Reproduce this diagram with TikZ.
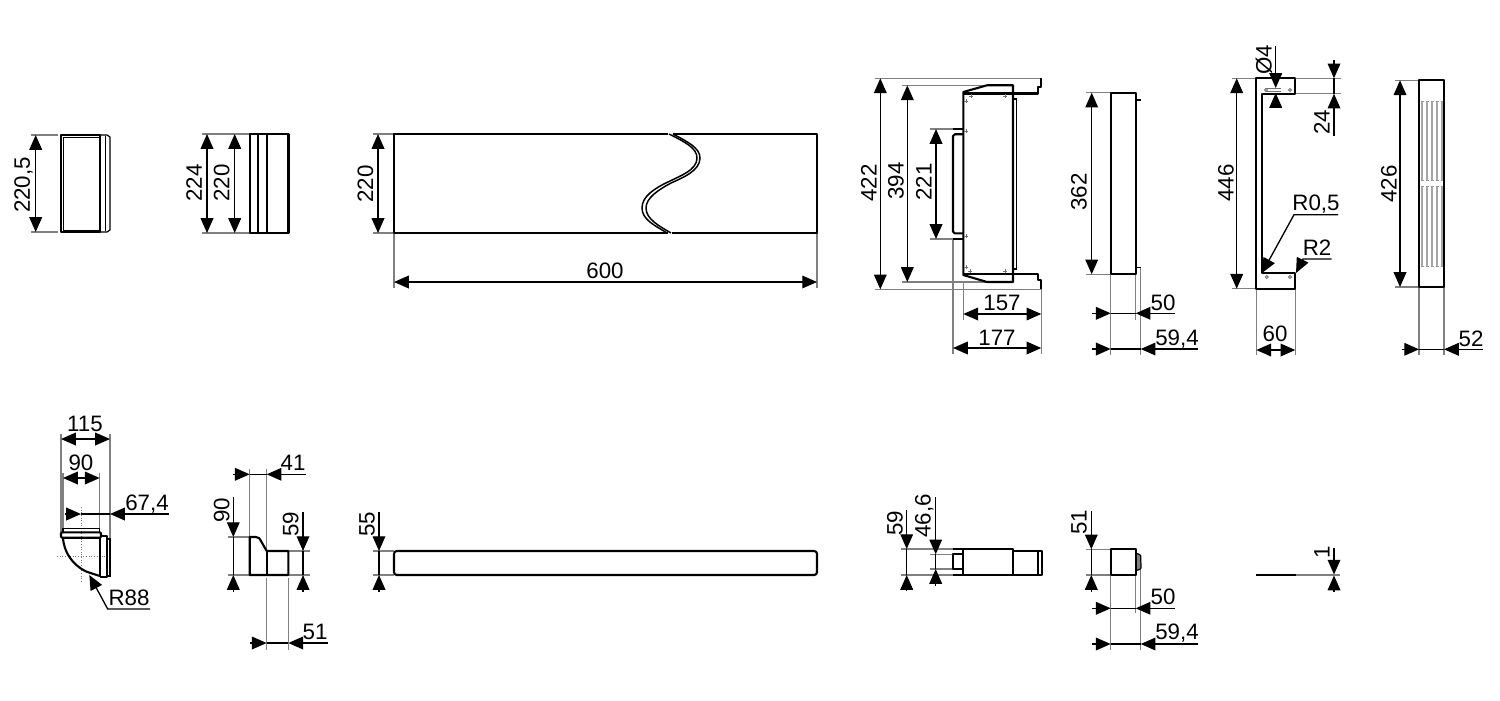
\documentclass[tikz,border=0pt]{standalone}
\usepackage{fontspec}
\setmainfont{Liberation Sans}
\usetikzlibrary{arrows.meta}
\tikzset{
  x=0.02cm,y=-0.02cm,
  obj/.style={line width=1.2pt,black,line join=round},
  thin obj/.style={line width=.65pt,black},
  ext/.style={line width=.6pt,black!50},
  dimtwo/.style={line width=.75pt,black,{Triangle[length=8.4pt,width=7.2pt]}-{Triangle[length=8.4pt,width=7.2pt]}},
  dimone/.style={line width=.75pt,black,-{Triangle[length=8.4pt,width=7.2pt]}},
  plainl/.style={line width=.75pt,black},
  lab/.style={font=\fontsize{12.7}{15}\selectfont,inner sep=0pt,text=black,text height=9.1pt,text depth=0pt},
  vlab/.style={lab,rotate=90},
  cl/.style={line width=.5pt,black!55,densely dotted},
}
\newcommand{\hole}[2]{\draw[line width=.45pt,black!55,fill=white] (#1,#2) circle (1.5);}
\newcommand{\plusm}[2]{\draw[line width=.5pt,black!55] (#1-2,#2) -- (#1+2,#2) (#1,#2-2) -- (#1,#2+2);}
\begin{document}
\begin{tikzpicture}
\useasboundingbox[fill=white] (0,0) rectangle (1500,700);

% ---------- top row: fig 1
\draw[ext] (31,135) -- (58,135) (31,232) -- (58,232);
\draw[obj] (61,135) rectangle (100,232);
\draw[thin obj,line width=.5pt] (63,137) rectangle (99,230);
\draw[thin obj] (100,135) -- (107,135) -- (110,137) -- (110,230) -- (107,232) -- (100,232);
\draw[thin obj,line width=.5pt] (105,136) -- (105,231);
\draw[dimtwo] (35.7,135) -- (35.7,232);
\node[vlab] (a1) at (22,185) {220,5};

% fig 2
\draw[ext] (202,134) -- (250,134) (202,233) -- (250,233);
\draw[obj] (250,134) rectangle (288.5,233);
\draw[obj] (258,134) -- (258,233) (267,134) -- (267,233);
\draw[dimtwo] (207,134) -- (207,233);
\draw[dimtwo] (234.7,134) -- (234.7,233);
\node[vlab] (a2) at (194,183) {224};
\node[vlab] (a3) at (221.5,183) {220};

% fig 3
\draw[ext] (373,134) -- (394,134) (373,233) -- (394,233);
\draw[ext] (394,233) -- (394,288) (817,233) -- (817,288);
\draw[obj] (668,134) -- (394,134) -- (394,233) -- (668,233);
\draw[obj] (673,134) -- (817,134) -- (817,233) -- (672,233);
\draw[line width=.85pt] (669,134) .. controls (685,142) and (697,148) .. (697,158) .. controls (697,170) and (680,176) .. (670,181) .. controls (655,188) and (642,196) .. (642,208) .. controls (642,220) and (656,226) .. (667,233);
\draw[line width=.85pt] (673,134) .. controls (688,142) and (700,148) .. (700,158) .. controls (700,171) and (682,178) .. (671,183) .. controls (658,190) and (646,198) .. (646,208) .. controls (646,219) and (659,226) .. (671,233);
\draw[dimtwo] (378,134) -- (378,233);
\draw[dimtwo] (394,282) -- (817,282);
\node[vlab] (a4) at (365,184) {220};
\node[lab] (a5) at (605,270.5) {600};

% fig 4
\draw[ext] (875,78.3) -- (1041,78.3) (875,289.3) -- (1041,289.3);
\draw[ext] (902,85.3) -- (987,85.3) (902,282) -- (987,282);
\draw[ext] (930,129) -- (953,129) (930,239) -- (953,239);
\draw[ext] (963.3,282) -- (963.3,320) (953,239) -- (953,354) (1041.3,289.3) -- (1041.3,354);
\draw[obj] (963.3,92) -- (987,85.3) -- (1013,85.3) -- (1013,282) -- (987,282) -- (963.3,275) -- cycle;
\draw[obj] (963.3,93.5) -- (1037.7,93.5) -- (1037.7,86.7) -- (1041.3,86.7) -- (1041.3,78.3);
\draw[obj] (963.3,273.7) -- (1037.7,273.7) -- (1037.7,280) -- (1041.3,280) -- (1041.3,289.3);
\draw[line width=.9pt] (1013,99) -- (1016.3,99) -- (1016.3,269) -- (1013,269);
\draw[obj] (963.3,134.3) -- (955,134.3) [rounded corners=1pt] -- (953,134.3) -- (953,233.3) -- (963.3,233.3);
\draw[obj] (953,129) -- (963.3,129) (953,239) -- (963.3,239);
\plusm{971}{96}\plusm{1005}{96}\plusm{966}{101}\plusm{966}{131}\plusm{966}{236}\plusm{966}{267}\plusm{970}{271}\plusm{1005}{271}
\draw[dimtwo] (880.3,78.3) -- (880.3,289.3);
\draw[dimtwo] (907.3,85.3) -- (907.3,282);
\draw[dimtwo] (936,129) -- (936,239);
\draw[dimtwo] (963.3,314) -- (1041.3,314);
\draw[dimtwo] (953,348) -- (1041.3,348);
\node[vlab] (a6) at (868.5,183) {422};
\node[vlab] (a7) at (895.5,181) {394};
\node[vlab] (a8) at (923.5,182) {221};
\node[lab] (a9) at (1002,302.5) {157};
\node[lab] (a10) at (997,337.5) {177};

% fig 5
\draw[ext] (1086,92.7) -- (1110.7,92.7) (1086,274.3) -- (1110.7,274.3);
\draw[ext] (1110.7,274.3) -- (1110.7,355) (1135.7,274.3) -- (1135.7,320) (1140.7,267.3) -- (1140.7,355);
\draw[obj] (1110.7,92.7) rectangle (1135.7,274.3);
\draw[line width=.9pt] (1135.7,100) -- (1141,100) (1135.7,267.3) -- (1141,267.3);
\draw[dimtwo] (1091.7,92.7) -- (1091.7,274.3);
\node[vlab] (a11) at (1078.5,192) {362};
\draw[dimone] (1092,313.3) -- (1110.7,313.3);
\draw[plainl] (1110.7,313.3) -- (1135.7,313.3);
\draw[dimone] (1175,313.3) -- (1135.7,313.3);
\node[lab] (a12) at (1163,302) {50};
\draw[dimone] (1092,349) -- (1110.7,349);
\draw[plainl] (1110.7,349) -- (1140.7,349);
\draw[dimone] (1198,349) -- (1140.7,349);
\node[lab] (a13) at (1177,337) {59,4};

% fig 6
\draw[ext] (1232,78.3) -- (1256.3,78.3) (1232,288.7) -- (1256.3,288.7);
\draw[ext] (1295.3,78.3) -- (1341,78.3) (1262,93.7) -- (1341,93.7);
\draw[ext] (1256.3,288.7) -- (1256.3,355) (1295.3,288.7) -- (1295.3,355);
\draw[obj] (1256.3,78.3) -- (1295.3,78.3) -- (1295.3,93.7) -- (1261.7,93.7) -- (1261.7,273.3) -- (1295.3,273.3) -- (1295.3,288.7) -- (1256.3,288.7) -- cycle;
\draw[line width=.5pt,black!55] (1265,88.5) -- (1281,88.5) (1265,91) -- (1281,91);
\hole{1266}{90}\hole{1290}{90}\hole{1266.7}{277}\hole{1290}{277}
\draw[dimtwo] (1236.7,78.3) -- (1236.7,288.7);
\draw[dimtwo] (1256.3,350) -- (1295.3,350);
\draw[dimone] (1275.7,46) -- (1275.7,88);
\draw[dimone] (1275.7,108) -- (1275.7,93);
\draw[dimone] (1334,60) -- (1334,78.3);
\draw[dimone] (1334,136) -- (1334,93.7);
\draw[plainl] (1334,78.3) -- (1334,93.7);
\draw[dimone] (1338,214.7) -- (1294,214.7) -- (1262,273);
\draw[dimone] (1331.7,259) -- (1303,259) -- (1296,273);
\node[vlab] (a14) at (1225.5,183) {446};
\node[vlab] (a15) at (1263.5,60) {Ø4};
\node[vlab] (a16) at (1321.5,122) {24};
\node[lab] (a17) at (1316,202.5) {R0,5};
\node[lab] (a18) at (1317,247.5) {R2};
\node[lab] (a19) at (1275,333.5) {60};

% fig 7
\draw[ext] (1395,80.3) -- (1419,80.3) (1395,287) -- (1419,287);
\draw[ext] (1419,287) -- (1419,355) (1444,287) -- (1444,355);
\foreach \xx in {1422,1427,1432,1437,1442}{
  \draw[line width=1.15pt,black!35] (\xx,101) -- (\xx,180.7) (\xx,186) -- (\xx,266.7);
}
\draw[line width=.4pt,black!45,densely dotted] (1421,101) -- (1443,101) (1421,180.7) -- (1443,180.7) (1421,186) -- (1443,186) (1421,266.7) -- (1443,266.7);
\draw[obj] (1419,80.3) rectangle (1444,287);
\draw[dimtwo] (1400,80.3) -- (1400,287);
\draw[dimone] (1402,349.3) -- (1419,349.3);
\draw[plainl] (1419,349.3) -- (1444,349.3);
\draw[dimone] (1483,349.3) -- (1444,349.3);
\node[vlab] (a20) at (1388.5,184) {426};
\node[lab] (a21) at (1471,338.5) {52};

% ---------- bottom row: fig 8
\draw[ext] (61,434) -- (61,532) (110,434) -- (110,540);
\draw[ext] (63,473) -- (63,528) (99.7,473) -- (99.7,528);
\draw[cl] (81,507) -- (81,581) (57,556) -- (110,556);
\draw[line width=.9pt] (63,532.3) -- (63,528.3) -- (99.7,528.3) -- (99.7,532.3);
\draw[obj,rounded corners=.6pt] (61,532.3) rectangle (101,537.7);
\draw[obj] (63,537.7) .. controls (64,556) and (78,570) .. (92,573.5) -- (100,576);
\draw[obj] (100,537.7) -- (100,576);
\draw[obj] (100,536) -- (106.7,536) -- (106.7,577) -- (100,577);
\draw[line width=.9pt] (106.7,539) -- (110,539) -- (110,576) -- (106.7,576);
\draw[dimtwo] (61,439) -- (110,439);
\draw[dimtwo] (63,478) -- (99.7,478);
\draw[dimone] (65,514) -- (81,514);
\draw[plainl] (81,514) -- (110,514);
\draw[dimone] (169,514) -- (110,514);
\draw[dimone] (150,609) -- (107.7,609) -- (89.3,575);
\node[lab] (b1) at (85,423) {115};
\node[lab] (b2) at (81,462) {90};
\node[lab] (b3) at (147,502) {67,4};
\node[lab] (b4) at (129,597) {R88};

% fig 9
\draw[ext] (228,537) -- (250,537) (228,575) -- (250,575);
\draw[ext] (288,551) -- (310,551) (288,575) -- (310,575);
\draw[ext] (249.7,469) -- (249.7,537) (266.7,469) -- (266.7,551);
\draw[ext] (266.7,578) -- (266.7,650) (288.3,578) -- (288.3,650);
\draw[obj] (249.7,575) -- (249.7,537) -- (256,537) .. controls (259,537) and (260,539) .. (261,541) -- (266.7,551) -- (288.3,551) -- (288.3,575) -- cycle;
\draw[obj] (266.7,551) -- (266.7,575);
\draw[dimone] (233.3,497) -- (233.3,537);
\draw[dimone] (233.3,591.7) -- (233.3,575);
\draw[plainl] (233.3,537) -- (233.3,575);
\draw[dimone] (303,511.7) -- (303,551);
\draw[dimone] (303,591.7) -- (303,575);
\draw[plainl] (303,551) -- (303,575);
\draw[dimone] (233,474.3) -- (249.7,474.3);
\draw[plainl] (249.7,474.3) -- (266.7,474.3);
\draw[dimone] (306,474.3) -- (266.7,474.3);
\draw[dimone] (250,643) -- (266.7,643);
\draw[plainl] (266.7,643) -- (288.3,643);
\draw[dimone] (327.7,643) -- (288.3,643);
\node[vlab] (b5) at (221.5,510) {90};
\node[vlab] (b6) at (290.5,524) {59};
\node[lab] (b7) at (293,462.5) {41};
\node[lab] (b8) at (315,631.5) {51};

% fig 10 (rod)
\draw[ext] (373,551) -- (394,551) (373,575) -- (394,575);
\draw[obj,rounded corners=1.6pt] (394,551) rectangle (817,575);
\draw[dimone] (379,511.7) -- (379,551);
\draw[dimone] (379,591.7) -- (379,575);
\draw[plainl] (379,551) -- (379,575);
\node[vlab] (b9) at (366.5,524) {55};

% fig 11
\draw[ext] (901,549) -- (953.3,549) (901,575) -- (953.3,575);
\draw[ext] (930,554.3) -- (953.3,554.3) (930,569) -- (953.3,569);
\draw[obj] (953.3,549) -- (1012.7,549) -- (1012.7,575) -- (953.3,575);
\draw[obj] (963.3,549) -- (963.3,575);
\draw[obj] (963.3,554.3) -- (953.3,554.3) -- (953.3,569) -- (963.3,569);
\draw[obj] (1012.7,550.7) -- (1041.7,550.7) -- (1041.7,575) -- (1012.7,575);
\draw[obj] (1037.7,550.7) -- (1037.7,575);
\draw[dimone] (906.7,510) -- (906.7,549);
\draw[dimone] (906.7,591) -- (906.7,575);
\draw[plainl] (906.7,549) -- (906.7,575);
\draw[dimone] (935.7,497) -- (935.7,554.3);
\draw[dimone] (935.7,586) -- (935.7,569);
\draw[plainl] (935.7,554.3) -- (935.7,569);
\node[vlab] (b10) at (894.5,523) {59};
\node[vlab] (b11) at (922.5,516) {46,6};

% fig 12
\draw[ext] (1086,549.3) -- (1110.7,549.3) (1086,575) -- (1110.7,575);
\draw[ext] (1110.7,575) -- (1110.7,650) (1135.7,575) -- (1135.7,613) (1140.7,570) -- (1140.7,650);
\draw[line width=.7pt,black,fill=black!50,rounded corners=.6pt] (1135.7,553) -- (1140.7,555) -- (1141,569) -- (1135.7,570.7) -- cycle;
\draw[obj] (1110.7,549.3) rectangle (1135.7,575);
\draw[dimone] (1091.3,511) -- (1091.3,549.3);
\draw[dimone] (1091.3,591.5) -- (1091.3,575);
\draw[plainl] (1091.3,549.3) -- (1091.3,575);
\draw[dimone] (1092,608.3) -- (1110.7,608.3);
\draw[plainl] (1110.7,608.3) -- (1135.7,608.3);
\draw[dimone] (1175,608.3) -- (1135.7,608.3);
\draw[dimone] (1092,644) -- (1110.7,644);
\draw[plainl] (1110.7,644) -- (1140.7,644);
\draw[dimone] (1198,644) -- (1140.7,644);
\node[vlab] (b12) at (1078.5,522) {51};
\node[lab] (b13) at (1163,596.5) {50};
\node[lab] (b14) at (1177,631.5) {59,4};

% fig 13
\draw[line width=1.4pt,black!50] (1296,575) -- (1340,575);
\draw[line width=1.4pt,black] (1255.7,575) -- (1296,575);
\draw[dimone] (1334,548) -- (1334,574.5);
\draw[dimone] (1334,592) -- (1334,575.5);
\node[vlab] (b15) at (1321.5,552) {1};
\end{tikzpicture}
\end{document}
